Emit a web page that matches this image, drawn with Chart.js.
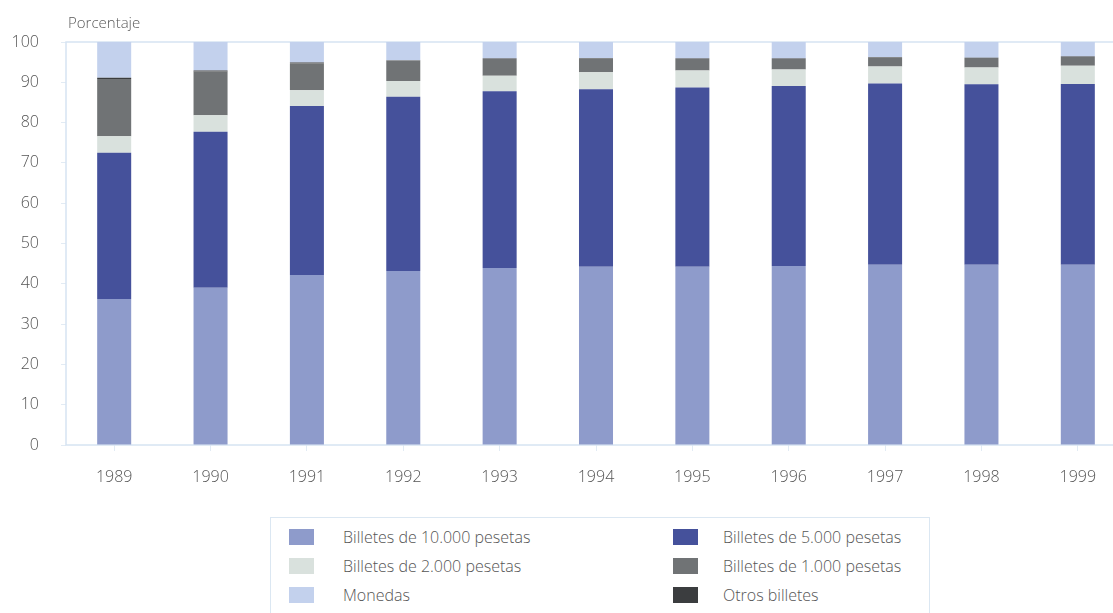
<!DOCTYPE html>
<html lang="es">
<head>
<meta charset="UTF-8">
<title>Composición del efectivo</title>
<script src="https://cdn.jsdelivr.net/npm/chart.js"></script>
<style>
  html, body { margin: 0; padding: 0; background: #fff; overflow: hidden; }
  body { width: 1113px; height: 613px; position: relative; font-family: "Open Sans", "Noto Sans", sans-serif; color: #555; }
  #wrap { position: absolute; left: 0; top: 0; width: 1126px; height: 505px; }
  #ytitle { position: absolute; left: 68px; top: 12px; font-size: 15px; color: #5a5a5a; font-weight: 300; }
  #legend { position: absolute; left: 270px; top: 517px; width: 660px; height: 100px; border: 1px solid #dbe7f2; box-sizing: border-box; }
  .item { position: absolute; font-size: 16px; color: #555; line-height: 20px; font-weight: 300; }
  .sw { position: absolute; width: 25px; height: 16px; top: 2px; }
  .item span.t { position: absolute; white-space: nowrap; }
</style>
</head>
<body>
<div id="wrap"><canvas id="chart"></canvas></div>
<div id="ytitle">Porcentaje</div>
<div id="legend"></div>

<script>
const years = ['1989','1990','1991','1992','1993','1994','1995','1996','1997','1998','1999'];
const billetes10000 = [36.2, 39.0, 42.2, 43.2, 43.9, 44.2, 44.2, 44.4, 44.7, 44.7, 44.7];
const billetes5000  = [36.3, 38.7, 41.9, 43.2, 43.9, 44.1, 44.5, 44.7, 45.0, 44.8, 44.9];
const billetes2000  = [4.1, 4.1, 3.9, 3.9, 3.8, 4.2, 4.2, 4.1, 4.2, 4.2, 4.5];
const billetes1000  = [14.2, 10.9, 6.7, 5.1, 4.2, 3.4, 2.9, 2.6, 2.3, 2.3, 2.2];
const otrosBilletes = [0.3, 0.2, 0.2, 0.1, 0.1, 0.1, 0.1, 0.1, 0.1, 0.1, 0.1];
const monedas       = [8.9, 7.1, 5.1, 4.5, 4.1, 4.0, 4.1, 4.1, 3.7, 3.9, 3.6];
const yTicks = [0, 10, 20, 30, 40, 50, 60, 70, 80, 90, 100];

const series = [
  { label: 'Billetes de 10.000 pesetas', data: billetes10000, color: '#8e9bcb' },
  { label: 'Billetes de 5.000 pesetas',  data: billetes5000,  color: '#45519b' },
  { label: 'Billetes de 2.000 pesetas',  data: billetes2000,  color: '#d9e1dd' },
  { label: 'Billetes de 1.000 pesetas',  data: billetes1000,  color: '#707375' },
  { label: 'Otros billetes',             data: otrosBilletes, color: '#3b3d3f' },
  { label: 'Monedas',                    data: monedas,       color: '#c3d1ed' }
];

const fontFamily = '"Open Sans", "Noto Sans", sans-serif';

// frame around plot area (top/left/bottom lines)
const framePlugin = {
  id: 'frame',
  beforeDatasetsDraw(chart) {
    const { ctx, chartArea: a } = chart;
    ctx.save();
    ctx.strokeStyle = '#d6e4f2';
    ctx.lineWidth = 1.5;
    ctx.strokeRect(a.left, a.top, a.right - a.left + 10, a.bottom - a.top);
    ctx.restore();
  }
};

const ctx = document.getElementById('chart').getContext('2d');
new Chart(ctx, {
  type: 'bar',
  data: {
    labels: years,
    datasets: series.map(s => ({
      label: s.label,
      data: s.data,
      backgroundColor: s.color,
      borderWidth: 0,
      barPercentage: 0.353,
      categoryPercentage: 1.0
    }))
  },
  options: {
    responsive: true,
    maintainAspectRatio: false,
    animation: false,
    layout: { padding: { top: 42, right: 0, bottom: 0, left: 0 } },
    plugins: { legend: { display: false }, tooltip: { enabled: false } },
    scales: {
      x: {
        stacked: true,
        grid: { offset: false, drawOnChartArea: false, drawTicks: true, tickLength: 6, color: '#e2ebf4' },
        border: { display: false },
        ticks: { color: '#555', padding: 17, font: { family: fontFamily, size: 16, weight: '300' } },
        afterFit(scale) { scale.height = 60; }
      },
      y: {
        stacked: true,
        min: 0,
        max: 100,
        afterBuildTicks(scale) { scale.ticks = yTicks.map(v => ({ value: v })); },
        grid: { drawOnChartArea: false, drawTicks: true, tickLength: 5, color: '#e2ebf4' },
        border: { display: false },
        ticks: { color: '#555', padding: 22, font: { family: fontFamily, size: 16, weight: '300' } },
        afterFit(scale) { scale.width = 66; }
      }
    }
  },
  plugins: [framePlugin]
});

// legend laid out in two columns like the original
const legendOrder = [0, 1, 2, 3, 5, 4];
const legend = document.getElementById('legend');
legendOrder.forEach((idx, i) => {
  const s = series[idx];
  const col = i % 2, row = Math.floor(i / 2);
  const item = document.createElement('div');
  item.className = 'item';
  item.style.left = (col === 0 ? 18 : 402) + 'px';
  item.style.top = (9 + row * 29) + 'px';
  item.innerHTML = '<div class="sw" style="left:0;background:' + s.color + '"></div>' +
                   '<span class="t" style="left:' + (col === 0 ? 54 : 50) + 'px">' + s.label + '</span>';
  legend.appendChild(item);
});
</script>
</body>
</html>
